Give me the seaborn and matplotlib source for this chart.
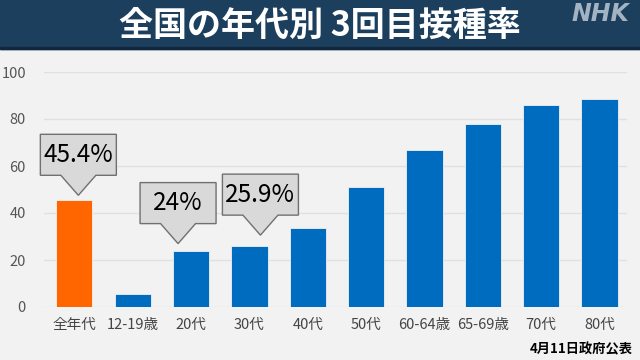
import matplotlib
matplotlib.use("Agg")
import matplotlib.pyplot as plt
import matplotlib.patches as mpatches
import matplotlib.transforms as mtransforms
import seaborn as sns
import pandas as pd

ages = ["全年代", "12-19歳", "20代", "30代", "40代", "50代", "60-64歳", "65-69歳", "70代", "80代"]
rates = [45.4, 5.4, 24.0, 25.9, 33.6, 51.1, 66.7, 77.7, 85.8, 88.4]
bar_colors = ["#ff6600"] + ["#006cc0"] * 9
yticks = [0, 20, 40, 60, 80, 100]

# which bars get a callout, and where the tip sits (px offset from bar top centre)
callouts = {"全年代": (4, 5), "20代": (-13, 7), "30代": (11, 11)}

title = "全国の年代別 3回目接種率"
source = "4月11日政府公表"

df = pd.DataFrame({"age": ages, "rate": rates})

sns.set_style("white")
plt.rcParams["font.family"] = ["Noto Sans CJK JP", "DejaVu Sans"]

fig = plt.figure(figsize=(6.4, 3.6), dpi=100)
fig.patch.set_facecolor("#f2f2f2")
ax = fig.add_axes([44 / 640, 1 - 307 / 360, (627 - 44) / 640, (307 - 72) / 360])
ax.set_facecolor("#f2f2f2")

sns.barplot(data=df, x="age", y="rate", hue="age", palette=bar_colors, saturation=1,
            legend=False, width=0.62, edgecolor="#f2f2f2", linewidth=0.6, ax=ax)

ax.set_ylim(0, 100)
ax.set_xlim(-0.52, len(ages) - 0.53)
ax.set_yticks(yticks)
for t in yticks:
    ax.axhline(t, color="#e0e0e0", lw=1, zorder=0)
for s in ax.spines.values():
    s.set_visible(False)
ax.set_xlabel("")
ax.set_ylabel("")
ax.tick_params(axis="y", length=0, pad=13, labelsize=10.5, labelcolor="#555555")
ax.tick_params(axis="x", length=0, pad=8, labelsize=10.5, labelcolor="#444444")

# callout boxes
box_w, box_h, tri_h, tri_w = 76, 41, 20, 35
shape = [(0, 0), (tri_w / 2, tri_h), (box_w / 2, tri_h), (box_w / 2, tri_h + box_h),
         (-box_w / 2, tri_h + box_h), (-box_w / 2, tri_h), (-tri_w / 2, tri_h)]
for name, (dx, dy) in callouts.items():
    i = ages.index(name)
    v = rates[i]
    off = mtransforms.ScaledTranslation(i, v, ax.transData)
    trans = fig.dpi_scale_trans + off
    pts = [((px + dx) / fig.dpi, (py + dy) / fig.dpi) for px, py in shape]
    ax.add_patch(mpatches.Polygon(pts, closed=True, facecolor="#d9d9d9",
                                  edgecolor="#707070", lw=1, transform=trans,
                                  clip_on=False, zorder=5))
    ax.annotate(f"{v:g}%", xy=(i, v),
                xytext=(dx * 72 / fig.dpi, (dy + tri_h + box_h / 2) * 72 / fig.dpi),
                textcoords="offset points", ha="center", va="center",
                fontsize=17.5, color="black", zorder=6)

# header band
fig.patches.append(mpatches.Rectangle((0, 1 - 49 / 360), 1, 49 / 360,
                                      transform=fig.transFigure, color="#1d3f5e", zorder=0))
fig.patches.append(mpatches.Rectangle((0, 1 - 49 / 360), 1, 2 / 360,
                                      transform=fig.transFigure, color="#0f2840", zorder=1))
fig.text(0.5, 1 - 25 / 360, title, ha="center", va="center", color="white",
         fontsize=24.5, fontweight="bold")
fig.text(629 / 640, 1 - 14 / 360, "NHK", ha="right", va="center", color="#a3b3c2",
         fontsize=17, fontweight="bold", style="italic", family="DejaVu Sans")

fig.text(633 / 640, 1 - 349 / 360, source, ha="right", va="center", color="black",
         fontsize=9.5, fontweight="bold")

fig.savefig("out.png", dpi=100, facecolor=fig.get_facecolor())
